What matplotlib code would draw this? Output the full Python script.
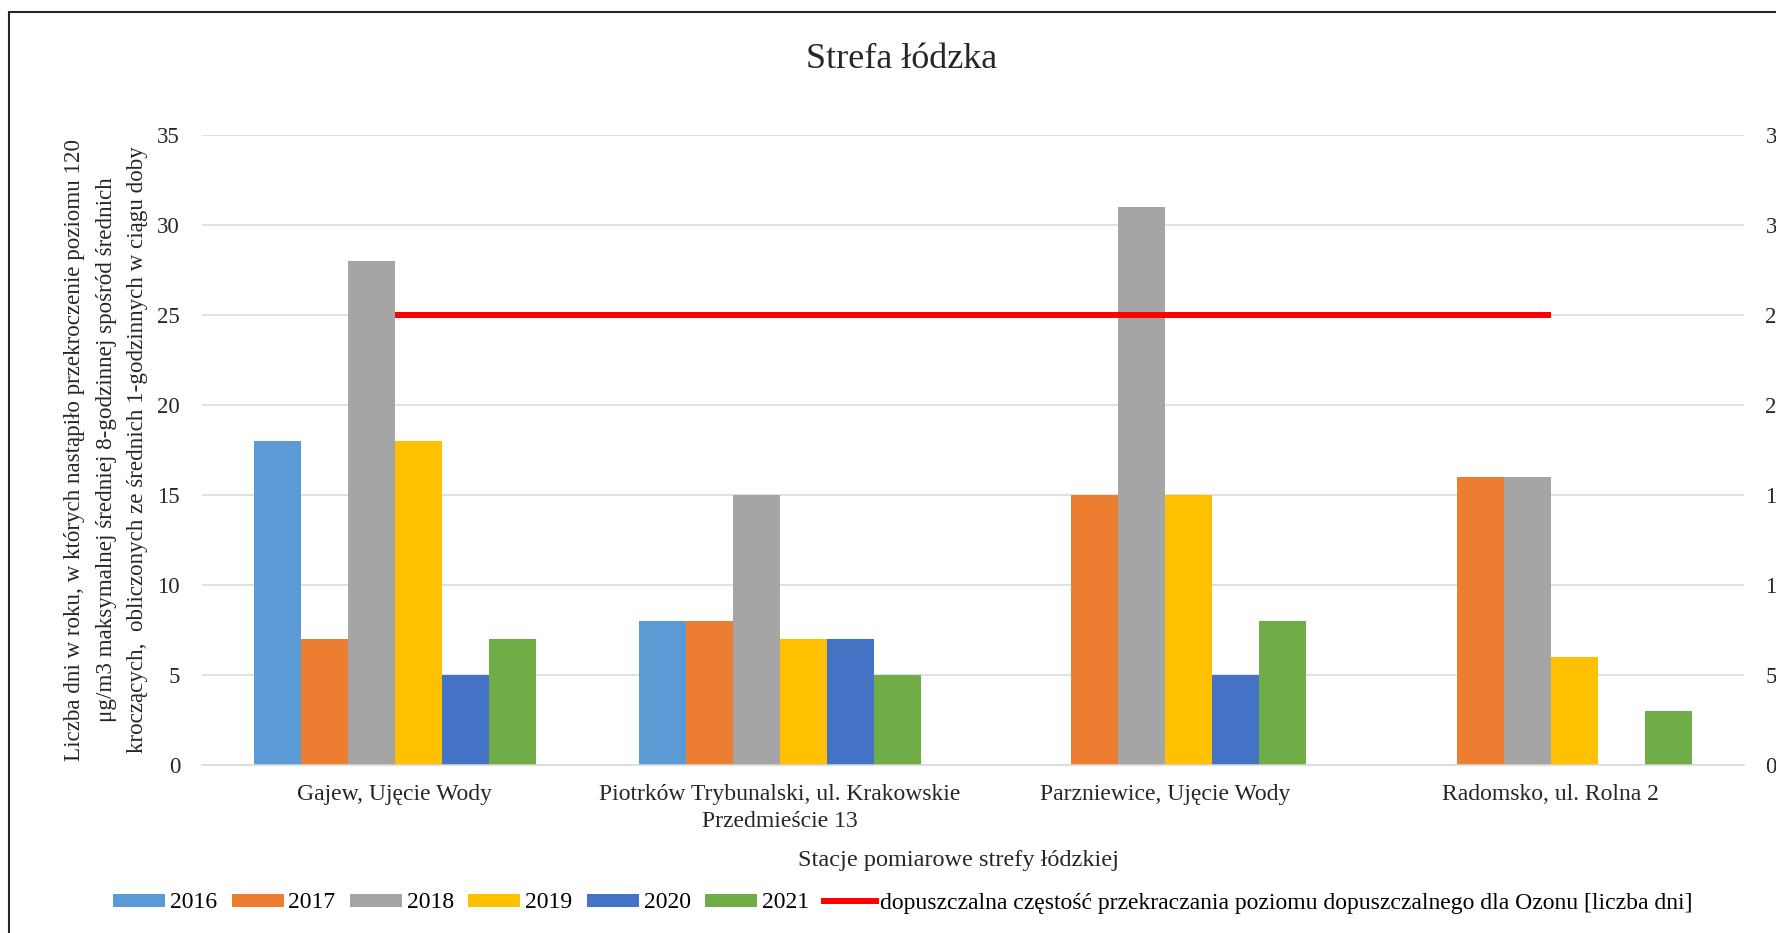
import numpy as np
import matplotlib
matplotlib.use("Agg")
from matplotlib import pyplot as plt
from matplotlib.patches import Patch, Rectangle
from matplotlib.lines import Line2D

plt.rcParams['font.family'] = ['Liberation Serif', 'DejaVu Serif']

stations = ['Gajew, Ujęcie Wody',
            'Piotrków Trybunalski, ul. Krakowskie\nPrzedmieście 13',
            'Parzniewice, Ujęcie Wody',
            'Radomsko, ul. Rolna 2']
years = ['2016', '2017', '2018', '2019', '2020', '2021']
nan = np.nan
y2016 = [18, 8, nan, nan]
y2017 = [7, 8, 15, 16]
y2018 = [28, 15, 31, 16]
y2019 = [18, 7, 15, 6]
y2020 = [5, 7, 5, nan]
y2021 = [7, 5, 8, 3]
limit = [25, 25, 25, 25]

colors = ['#5B9BD5', '#ED7D31', '#A5A5A5', '#FFC000', '#4472C4', '#70AD47']
series = [y2016, y2017, y2018, y2019, y2020, y2021]

ylabel = ('Liczba dni w roku, w których nastąpiło przekroczenie poziomu 120\n'
          'μg/m3 maksymalnej średniej 8-godzinnej spośród średnich\n'
          'kroczących,  obliczonych ze średnich 1-godzinnych w ciągu doby')
limit_label = 'dopuszczalna częstość przekraczania poziomu dopuszczalnego dla Ozonu [liczba dni]'

W, H = 1776, 933
fig = plt.figure(figsize=(W / 100, H / 100), dpi=100)
ax = fig.add_axes([202 / W, 1 - 764.6 / H, 1541.5 / W, 629.8 / H])

x = np.arange(len(stations))
bw = 0.122
for j, (vals, c) in enumerate(zip(series, colors)):
    ax.bar(x + (j - 2.5) * bw, vals, width=bw, color=c, zorder=2)

ax.plot(x, limit, color='#FF0000', lw=4.3, zorder=3, solid_capstyle='butt')

ax.set_xlim(-0.5, 3.5)
ax.set_ylim(0, 35)
ax.set_yticks(np.arange(0, 36, 5))
ax.grid(axis='y', color='#D9D9D9', lw=1.1)
ax.set_axisbelow(True)
for s in ['top', 'left', 'right']:
    ax.spines[s].set_visible(False)
ax.spines['bottom'].set_color('#D9D9D9')
ax.spines['bottom'].set_linewidth(1.1)

ax.set_xticks(x)
ax.set_xticklabels(stations, fontsize=17, linespacing=1.35)
ax.tick_params(axis='x', length=0, pad=14, colors='#262626')
ax.tick_params(axis='y', length=0, pad=15.8, labelsize=16.5, colors='#262626')

ax.set_ylabel(ylabel, fontsize=16.6, linespacing=1.65, color='#262626')
ax.yaxis.set_label_coords((148 - 202) / 1541.5, 0.5)
ax.set_xlabel('Stacje pomiarowe strefy łódzkiej', fontsize=17.5, color='#262626')
ax.xaxis.set_label_coords((958 - 202) / 1541.5, -0.136)

# right-hand axis repeats the scale
ax2 = ax.twinx()
ax2.set_ylim(0, 35)
ax2.set_yticks(np.arange(0, 36, 5))
ax2.tick_params(axis='y', length=0, pad=15.8, labelsize=16.5, colors='#262626')
for s in ax2.spines.values():
    s.set_visible(False)

fig.text(901.5 / W, 1 - 68 / H, 'Strefa łódzka', fontsize=26,
         ha='center', va='baseline', color='#262626')

handles = [Patch(facecolor=c, label=y) for c, y in zip(colors, years)]
handles.append(Line2D([], [], color='#FF0000', lw=4.3, label=limit_label))
fig.legend(handles=handles, loc='center', bbox_to_anchor=(903 / W, 1 - 903 / H),
           ncol=7, frameon=False, fontsize=17, handlelength=2.2, handleheight=0.47,
           handletextpad=0.2, columnspacing=0.62)

# chart border
fig.patches.append(Rectangle((9 / W, -0.1), 2, 1.1 - 12 / H, transform=fig.transFigure,
                             fill=False, lw=1.5, ec='#262626'))

fig.savefig('out.png', dpi=100)
